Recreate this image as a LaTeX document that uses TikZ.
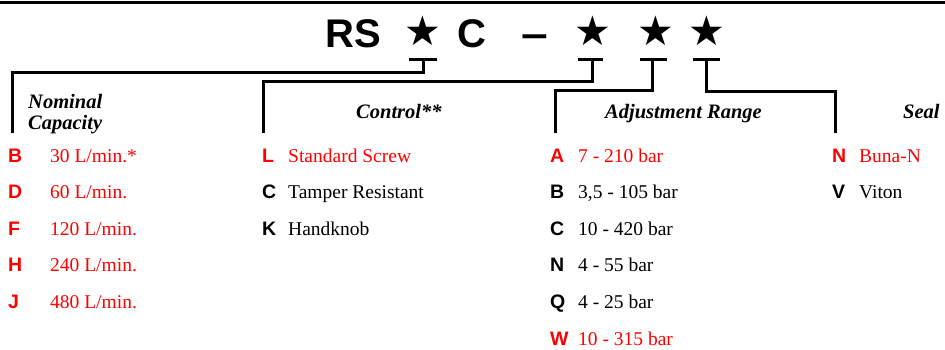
\documentclass[tikz,border=0pt]{standalone}
\usepackage{fontspec}
\setmainfont{Liberation Serif}
\setsansfont{Liberation Sans}
\newfontfamily\starfont{DejaVu Sans}
\begin{document}
\begin{tikzpicture}[x=1pt,y=-1pt,
  code/.style={font=\sffamily\bfseries\fontsize{19.5}{20}\selectfont, anchor=base west, inner sep=0pt},
  desc/.style={font=\fontsize{19.5}{20}\selectfont, anchor=base west, inner sep=0pt},
  head/.style={font=\bfseries\itshape\fontsize{20.5}{22}\selectfont, anchor=base west, inner sep=0pt},
  sel/.style={text=red},
  bar/.style={line width=3pt},
  titletext/.style={font=\sffamily\bfseries\fontsize{40}{44}\selectfont, anchor=base west, inner sep=0pt},
  starmark/.style={font=\starfont\fontsize{41}{44}\selectfont, anchor=center, inner sep=0pt}]
\useasboundingbox (0,0) rectangle (945,349);
% top rule
\coordinate (rl) at (0,2);
\coordinate (rr) at (945,2);
\draw[bar] (rl) -- (rr);
% title
\node[titletext] (rs) at (325,47) {RS};
\node[starmark] (s1) at (423,31) {★};
\node[titletext] (c) at (457,47) {C};
\node[titletext, xscale=1.2, transform shape] (dash) at (521,47) {–};
\node[starmark] (s2) at (593,31) {★};
\node[starmark] (s3) at (656,31) {★};
\node[starmark] (s4) at (707,31) {★};
% T bars and brackets
\coordinate (t1) at (423,59); \coordinate (e1) at (12,133);
\coordinate (t2) at (592,59); \coordinate (e2) at (263,133);
\coordinate (t3) at (652,59); \coordinate (e3) at (555,133);
\coordinate (t4) at (706,59); \coordinate (e4) at (835,133);
\draw[bar] ([xshift=-14pt]t1) -- ([xshift=14pt]t1);
\draw[bar] ([xshift=-14pt]t2) -- ([xshift=11pt]t2);
\draw[bar] ([xshift=-12pt]t3) -- ([xshift=15pt]t3);
\draw[bar] ([xshift=-13pt]t4) -- ([xshift=14pt]t4);
\draw[bar] (t1) -- ++(0,13) -| (e1);
\draw[bar] (t2) -- ++(0,22) -| (e2);
\draw[bar] (t3) -- ++(0,31) -| (e3);
\draw[bar] (t4) -- ++(0,32) -| (e4);
% headers
\node[head] (h1a) at (28,108) {Nominal};
\node[head] (h1b) at (28,129) {Capacity};
\node[head] (h2) at (356,118) {Control**};
\node[head] (h3) at (605,118) {Adjustment Range};
\node[head] (h4) at (903,118) {Seal};
% Nominal capacity
\node[code,sel] (nb) at (8,162) {B};   \node[desc,sel] (nbt) at (50,162) {30 L/min.*};
\node[code,sel] (nd) at (8,198.6) {D}; \node[desc,sel] (ndt) at (50,198.6) {60 L/min.};
\node[code,sel] (nf) at (8,235.2) {F}; \node[desc,sel] (nft) at (50,235.2) {120 L/min.};
\node[code,sel] (nh) at (8,271.8) {H}; \node[desc,sel] (nht) at (50,271.8) {240 L/min.};
\node[code,sel] (nj) at (8,308.4) {J}; \node[desc,sel] (njt) at (50,308.4) {480 L/min.};
% Control
\node[code,sel] (cl) at (262,162) {L}; \node[desc,sel] (clt) at (288,162) {Standard Screw};
\node[code] (cc) at (262,198.6) {C};   \node[desc] (cct) at (288,198.6) {Tamper Resistant};
\node[code] (ck) at (262,235.2) {K};   \node[desc] (ckt) at (288,235.2) {Handknob};
% Adjustment range
\node[code,sel] (aa) at (550,162) {A}; \node[desc,sel] (aat) at (578,162) {7 - 210 bar};
\node[code] (ab) at (550,198.6) {B};   \node[desc] (abt) at (578,198.6) {3,5 - 105 bar};
\node[code] (ac) at (550,235.2) {C};   \node[desc] (act) at (578,235.2) {10 - 420 bar};
\node[code] (an) at (550,271.8) {N};   \node[desc] (ant) at (578,271.8) {4 - 55 bar};
\node[code] (aq) at (550,308.4) {Q};   \node[desc] (aqt) at (578,308.4) {4 - 25 bar};
\node[code,sel] (aw) at (550,345) {W}; \node[desc,sel] (awt) at (578,345) {10 - 315 bar};
% Seal
\node[code,sel] (sn) at (832,162) {N}; \node[desc,sel] (snt) at (859,162) {Buna-N};
\node[code] (sv) at (832,198.6) {V};   \node[desc] (svt) at (859,198.6) {Viton};
\end{tikzpicture}
\end{document}
